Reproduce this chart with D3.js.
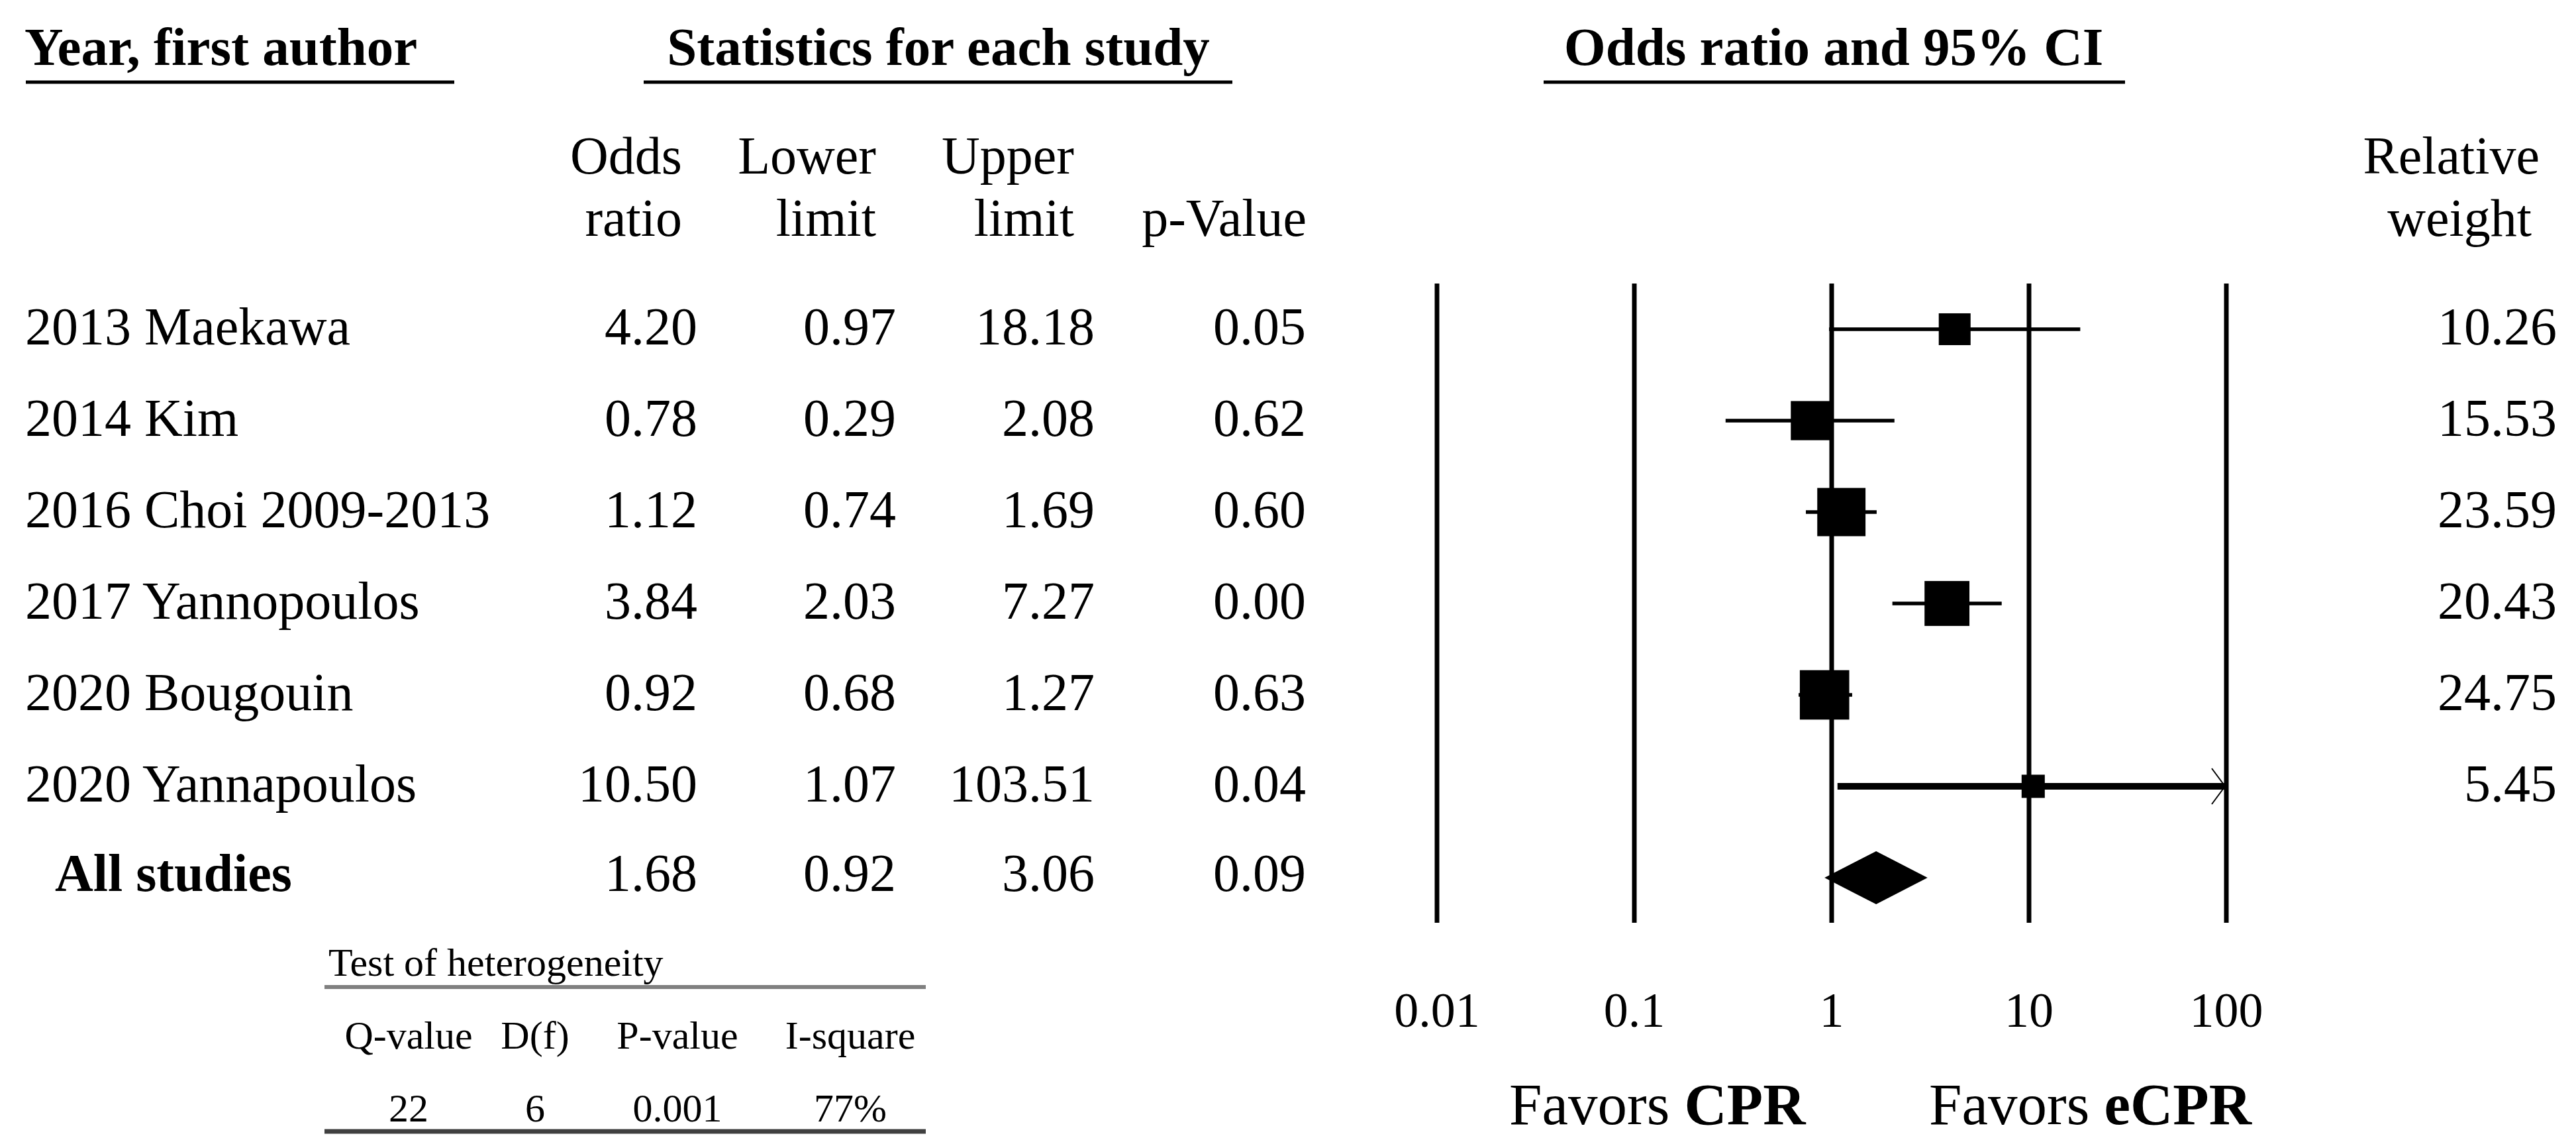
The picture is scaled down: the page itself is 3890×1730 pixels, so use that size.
<!DOCTYPE html>
<html>
<head>
<meta charset="utf-8">
<script src="https://cdn.jsdelivr.net/npm/d3@7"></script>
<style>
  body { margin: 0; background: #fff; }
  text { font-family: "Liberation Serif", "Times New Roman", serif; fill: #000; }
</style>
</head>
<body>
<div id="chart"></div>
<script>
const studies = ['2013 Maekawa', '2014 Kim', '2016 Choi 2009-2013', '2017 Yannopoulos', '2020 Bougouin', '2020 Yannapoulos']
const oddsRatio = [4.20, 0.78, 1.12, 3.84, 0.92, 10.50]
const lowerLimit = [0.97, 0.29, 0.74, 2.03, 0.68, 1.07]
const upperLimit = [18.18, 2.08, 1.69, 7.27, 1.27, 103.51]
const pValues = [0.05, 0.62, 0.60, 0.00, 0.63, 0.04]
const weights = [10.26, 15.53, 23.59, 20.43, 24.75, 5.45]

const summaryLabel = 'All studies'
const summary = [1.68, 0.92, 3.06, 0.09]

const tickValues = [0.01, 0.1, 1, 10, 100]

const hetHeaders = ['Q-value', 'D(f)', 'P-value', 'I-square']
const hetValues = ['22', '6', '0.001', '77%']

const width = 3890, height = 1730

const svg = d3.select('#chart').append('svg')
  .attr('width', width)
  .attr('height', height)

const x = d3.scaleLog().domain([0.01, 100]).range([2170, 3362])
const y = d3.scalePoint().domain(d3.range(studies.length + 1)).range([497, 1325])
const boxSize = d3.scaleSqrt().domain([0, 25]).range([0, 75])

const fs = 80
const colRight = [1053, 1353, 1653, 1972]
const headRight = [1030, 1323, 1622, 1973]
const weightRight = 3861

// section titles
const titles = [
  { t: 'Year, first author', x: 37, anchor: 'start', l1: 39, l2: 686 },
  { t: 'Statistics for each study', x: 1417, anchor: 'middle', l1: 972, l2: 1861 },
  { t: 'Odds ratio and 95% CI', x: 2769, anchor: 'middle', l1: 2331, l2: 3209 }
]
titles.forEach(d => {
  svg.append('text').attr('x', d.x).attr('y', 98)
    .attr('text-anchor', d.anchor)
    .style('font-size', '81px').style('font-weight', 'bold')
    .text(d.t)
  svg.append('line').attr('x1', d.l1).attr('x2', d.l2)
    .attr('y1', 124).attr('y2', 124)
    .attr('stroke', '#000').attr('stroke-width', 5)
})

// column headers
const heads = [['Odds', 'ratio'], ['Lower', 'limit'], ['Upper', 'limit'], ['', 'p-Value']]
heads.forEach((h, i) => {
  h.forEach((t, j) => {
    svg.append('text').attr('x', headRight[i]).attr('y', 262 + j * 94)
      .attr('text-anchor', 'end').style('font-size', fs + 'px').text(t)
  })
})
;['Relative', 'weight'].forEach((t, j) => {
  svg.append('text').attr('x', 3835 - (j ? 12 : 0)).attr('y', 262 + j * 94)
    .attr('text-anchor', 'end').style('font-size', fs + 'px').text(t)
})

// study rows
const rows = studies.map((s, i) => ({
  name: s, vals: [oddsRatio[i], lowerLimit[i], upperLimit[i], pValues[i]], w: weights[i], i: i
}))

const rowG = svg.selectAll('.row').data(rows).enter().append('g').attr('class', 'row')
rowG.append('text').attr('x', 38).attr('y', d => y(d.i) + 23)
  .style('font-size', fs + 'px').text(d => d.name)
rowG.each(function(d) {
  const g = d3.select(this)
  d.vals.forEach((v, k) => {
    g.append('text').attr('x', colRight[k]).attr('y', y(d.i) + 23)
      .attr('text-anchor', 'end').style('font-size', fs + 'px').text(v.toFixed(2))
  })
  g.append('text').attr('x', weightRight).attr('y', y(d.i) + 23)
    .attr('text-anchor', 'end').style('font-size', fs + 'px').text(d.w.toFixed(2))
})

// summary row
const sy = y(studies.length)
svg.append('text').attr('x', 83).attr('y', sy + 20)
  .style('font-size', fs + 'px').style('font-weight', 'bold').text(summaryLabel)
summary.forEach((v, k) => {
  svg.append('text').attr('x', colRight[k]).attr('y', sy + 20)
    .attr('text-anchor', 'end').style('font-size', fs + 'px').text(v.toFixed(2))
})

// vertical reference lines
const plot = svg.append('g')
plot.selectAll('.vline').data(tickValues).enter().append('line')
  .attr('x1', d => x(d)).attr('x2', d => x(d))
  .attr('y1', 428).attr('y2', 1393)
  .attr('stroke', '#000').attr('stroke-width', 7)

plot.selectAll('.tick').data(tickValues).enter().append('text')
  .attr('x', d => x(d)).attr('y', 1550)
  .attr('text-anchor', 'middle').style('font-size', '74px')
  .text(d => d)

// CIs and boxes
const xmax = x.domain()[1]
plot.selectAll('.ci').data(rows).enter().append('line')
  .attr('x1', d => x(d.vals[1])).attr('x2', d => x(Math.min(d.vals[2], xmax)))
  .attr('y1', d => y(d.i)).attr('y2', d => y(d.i))
  .attr('stroke', '#000').attr('stroke-width', d => d.vals[2] > xmax ? 10 : 5.5)

rows.filter(d => d.vals[2] > xmax).forEach(d => {
  const cy = y(d.i), ax = x(xmax)
  plot.append('path')
    .attr('d', `M${ax - 22},${cy - 27}L${ax - 2},${cy}L${ax - 22},${cy + 27}`)
    .attr('fill', 'none').attr('stroke', '#000').attr('stroke-width', 2)
})

plot.selectAll('.box').data(rows).enter().append('rect')
  .attr('x', d => x(d.vals[0]) - boxSize(d.w) / 2)
  .attr('y', d => y(d.i) - boxSize(d.w) / 2)
  .attr('width', d => boxSize(d.w))
  .attr('height', d => boxSize(d.w))
  .attr('fill', '#000')

// summary diamond
plot.append('path')
  .attr('d', `M${x(summary[1])},${sy}L${x(summary[0])},${sy - 40}L${x(summary[2])},${sy}L${x(summary[0])},${sy + 40}Z`)
  .attr('fill', '#000')

// favors labels
const fav = [{ x: 2279, a: 'Favors ', b: 'CPR' }, { x: 2913, a: 'Favors ', b: 'eCPR' }]
fav.forEach(d => {
  const t = svg.append('text').attr('x', d.x).attr('y', 1697).style('font-size', '89px')
  t.append('tspan').text(d.a)
  t.append('tspan').style('font-weight', 'bold').text(d.b)
})

// heterogeneity table
svg.append('text').attr('x', 496).attr('y', 1473).style('font-size', '60px').text('Test of heterogeneity')
svg.append('line').attr('x1', 490).attr('x2', 1398).attr('y1', 1490).attr('y2', 1490)
  .attr('stroke', '#808080').attr('stroke-width', 6)
const hetX = [617, 808, 1023, 1284]
hetHeaders.forEach((h, i) => {
  svg.append('text').attr('x', hetX[i]).attr('y', 1583)
    .attr('text-anchor', 'middle').style('font-size', '60px').text(h)
  svg.append('text').attr('x', hetX[i]).attr('y', 1693)
    .attr('text-anchor', 'middle').style('font-size', '60px').text(hetValues[i])
})
svg.append('line').attr('x1', 490).attr('x2', 1398).attr('y1', 1708).attr('y2', 1708)
  .attr('stroke', '#404040').attr('stroke-width', 7)
</script>
</body>
</html>
